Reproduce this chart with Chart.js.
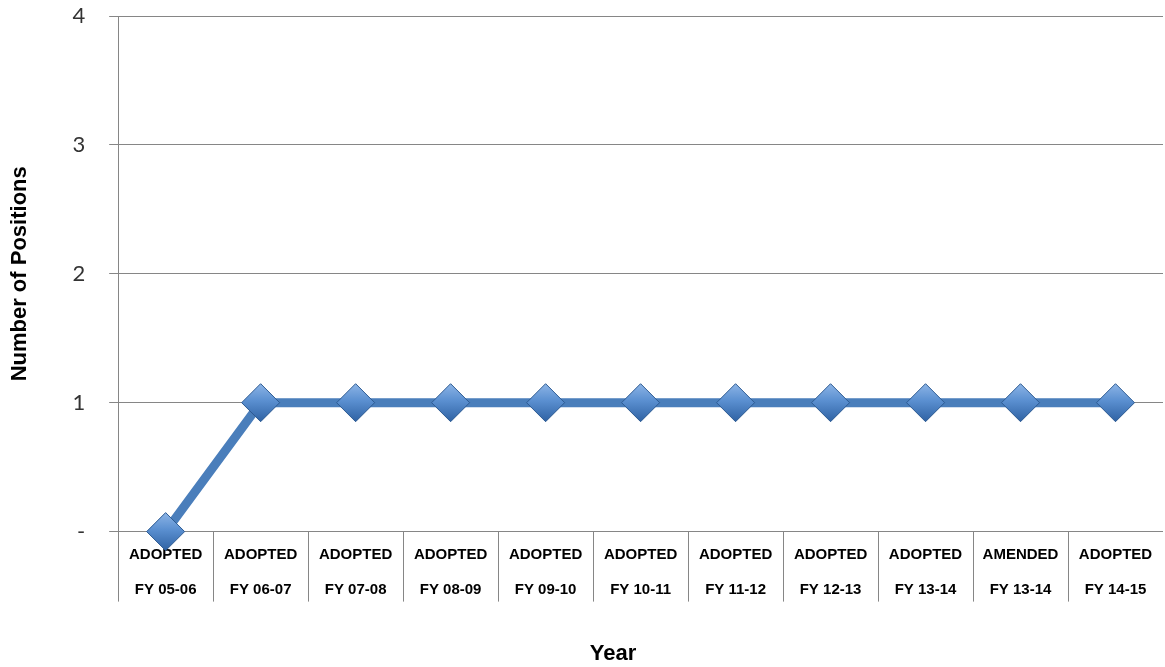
<!DOCTYPE html>
<html>
<head>
<meta charset="utf-8">
<script src="https://cdn.jsdelivr.net/npm/chart.js@4/dist/chart.umd.min.js"></script>
<style>
  html, body { margin: 0; padding: 0; background: #ffffff; }
  #wrap { width: 1165px; height: 667px; position: relative; }
</style>
</head>
<body>
<div id="wrap"><canvas id="chart"></canvas></div>
<script>
// Budget stage and fiscal year for each column
const stages = ['ADOPTED', 'ADOPTED', 'ADOPTED', 'ADOPTED', 'ADOPTED', 'ADOPTED',
                'ADOPTED', 'ADOPTED', 'ADOPTED', 'AMENDED', 'ADOPTED'];
const fiscalYears = ['FY 05-06', 'FY 06-07', 'FY 07-08', 'FY 08-09', 'FY 09-10', 'FY 10-11',
                     'FY 11-12', 'FY 12-13', 'FY 13-14', 'FY 13-14', 'FY 14-15'];
// Number of positions per budget
const positions = [0, 1, 1, 1, 1, 1, 1, 1, 1, 1, 1];
// Value axis ticks
const yTicks = [0, 1, 2, 3, 4];

const labels = stages.map((s, i) => [s, fiscalYears[i]]);

const boldFont = "'Liberation Sans', Arial, sans-serif";
const MARKER_R = 19;

// Shaded fill for each diamond marker, lighter at the top
function markerFill(context) {
  const chart = context.chart;
  const yScale = chart.scales.y;
  if (!context.parsed || !yScale) return '#4f86c6';
  const py = yScale.getPixelForValue(context.parsed.y);
  if (!isFinite(py)) return '#4f86c6';
  const g = chart.ctx.createLinearGradient(0, py - MARKER_R, 0, py + MARKER_R);
  g.addColorStop(0, '#8cb4e6');
  g.addColorStop(0.45, '#5a8fd0');
  g.addColorStop(1, '#2f62a3');
  return g;
}

// Vertical separators between category labels below the axis
const categorySeparators = {
  id: 'categorySeparators',
  afterDraw(chart) {
    const x = chart.scales.x;
    const area = chart.chartArea;
    const ctx = chart.ctx;
    const n = chart.data.labels.length;
    ctx.save();
    ctx.strokeStyle = '#868686';
    ctx.lineWidth = 1;
    ctx.beginPath();
    for (let i = 0; i < n; i++) {
      let bx;
      if (i === 0) bx = area.left;
      else bx = (x.getPixelForValue(i - 1) + x.getPixelForValue(i)) / 2;
      bx = Math.round(bx) + 0.5;
      ctx.moveTo(bx, area.bottom);
      ctx.lineTo(bx, area.bottom + 70);
    }
    ctx.stroke();
    ctx.restore();
  }
};

new Chart(document.getElementById('chart'), {
  type: 'line',
  data: {
    labels: labels,
    datasets: [{
      label: 'Positions',
      data: positions,
      borderColor: '#4a7ebb',
      borderWidth: 9,
      pointStyle: 'rectRot',
      pointRadius: MARKER_R,
      pointHoverRadius: MARKER_R,
      pointBackgroundColor: markerFill,
      pointBorderColor: '#2c5a92',
      pointBorderWidth: 1,
      tension: 0,
      clip: false
    }]
  },
  options: {
    responsive: true,
    maintainAspectRatio: false,
    animation: false,
    layout: { autoPadding: false, padding: { top: 16, right: 2, left: 7, bottom: 0 } },
    plugins: {
      legend: { display: false },
      tooltip: { enabled: false }
    },
    scales: {
      x: {
        offset: true,
        grid: { display: false, drawTicks: false },
        border: { display: false },
        afterFit(scale) { scale.paddingLeft = 0; scale.paddingRight = 0; },
        ticks: {
          autoSkip: false,
          maxRotation: 0,
          padding: 6,
          color: '#000000',
          font: { family: boldFont, size: 15, weight: 'bold', lineHeight: '35px' }
        },
        title: {
          display: true,
          // trailing spaces pull the centred title a little to the left
          text: 'Year         ',
          color: '#000000',
          font: { family: boldFont, size: 22, weight: 'bold' },
          padding: { top: 27, bottom: 0 }
        }
      },
      y: {
        min: 0,
        max: 4,
        afterBuildTicks(scale) { scale.ticks = yTicks.map(v => ({ value: v })); },
        afterFit(scale) { scale.paddingTop = 0; scale.paddingBottom = 0; },
        grid: { color: '#868686', lineWidth: 1, tickLength: 9 },
        border: { display: true, color: '#868686', width: 1 },
        ticks: {
          padding: 24,
          color: '#333333',
          font: { family: "Lato, 'Open Sans', sans-serif", size: 22 },
          callback: v => v === 0 ? '-' : String(v)
        },
        title: {
          display: true,
          text: 'Number of Positions',
          color: '#000000',
          font: { family: boldFont, size: 22, weight: 'bold' },
          padding: { top: 0, bottom: 15 }
        }
      }
    }
  },
  plugins: [categorySeparators]
});
</script>
</body>
</html>
